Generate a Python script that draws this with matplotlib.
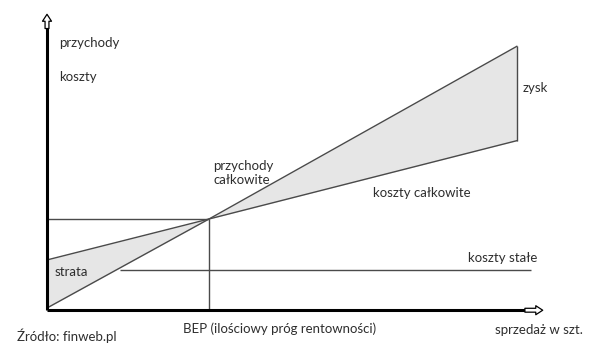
import numpy as np
import matplotlib.pyplot as plt

#----------------------------------------------------------------
# data (sales in units, values in money units)
#----------------------------------------------------------------
sales = [0, 100, 290]
revenue = [0, 100, 294]
total_cost = [54, 100, 188]
fixed_cost = 43
fixed_from = 45
fixed_to = 299
bep = (100, 100)

#----------------------------------------------------------------
# figure: one axes over the whole canvas, pixels -> data
#----------------------------------------------------------------
W, H = 605, 351
x0, sx = 47, 1.62      # pixel x of q=0, pixels per unit
y0, sy = 308, 0.89     # pixel y of v=0, pixels per unit

fig = plt.figure(figsize=(W / 100, H / 100), dpi=100)
ax = fig.add_axes([0, 0, 1, 1])
ax.set_xlim((0 - x0) / sx, (W - x0) / sx)
ax.set_ylim((y0 - H) / sy, y0 / sy)
ax.axis("off")

line_c = "#4a4a4a"
text_c = "#2e2e2e"
plt.rcParams["font.family"] = ["Lato", "DejaVu Sans"]

# shaded areas (loss and profit)
ax.fill_between(sales, revenue, total_cost, color="#e6e6e6", lw=0)

ax.plot(sales, revenue, color=line_c, lw=1)
ax.plot(sales, total_cost, color=line_c, lw=1)
ax.vlines(sales[-1], total_cost[-1], revenue[-1], color=line_c, lw=1)
ax.hlines(fixed_cost, fixed_from, fixed_to, color=line_c, lw=1)
ax.hlines(bep[1], 0, bep[0], color=line_c, lw=1)
ax.vlines(bep[0], -2.5, bep[1], color=line_c, lw=1)

# axes with hollow arrows
ax.plot([0, 0], [-2.5, 316], color="black", lw=2.2, solid_capstyle="butt")
ax.plot([0, 296], [-2.5, -2.5], color="black", lw=2.2, solid_capstyle="butt")
arrow = dict(arrowstyle="simple,head_width=0.65,head_length=0.5,tail_width=0.28",
             fc="white", ec="black", lw=0.9, shrinkA=0, shrinkB=0)
ax.annotate("", xy=(0, 330), xytext=(0, 314), arrowprops=arrow)
ax.annotate("", xy=(306, -2.5), xytext=(295, -2.5), arrowprops=arrow)

#----------------------------------------------------------------
# labels (placed in pixel positions of the picture)
#----------------------------------------------------------------
def label(px, py, s, **kw):
    ax.text((px - x0) / sx, (y0 - py) / sy, s, color=text_c, fontsize=9.5,
            va="center", ha="left", **kw)

label(59, 43, "przychody")
label(59, 77, "koszty")
label(213, 173, "przychody\ncałkowite", linespacing=1.25)
label(373, 193, "koszty całkowite")
label(523, 88, "zysk")
label(468, 258, "koszty stałe")
label(55, 272, "strata")
label(495, 330, "sprzedaż w szt.")
label(183, 329, "BEP (ilościowy próg rentowności)")
label(17, 336, "Źródło: finweb.pl")

fig.savefig("out.png", dpi=100)
